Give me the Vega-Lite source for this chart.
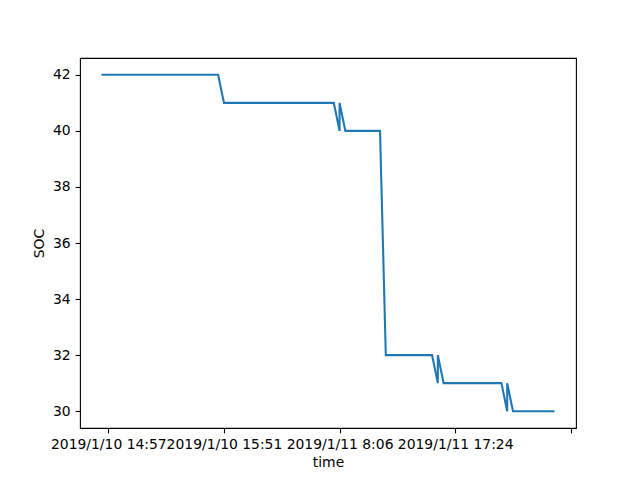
{
  "$schema": "https://vega.github.io/schema/vega-lite/v6.json",
  "width": 496,
  "height": 370,
  "autosize": {"type": "none"},
  "padding": {"left": 80, "top": 58, "right": 64, "bottom": 52},
  "background": "white",
  "config": {
    "font": "DejaVu Sans",
    "view": {"stroke": "black", "strokeWidth": 1.1},
    "axis": {
      "grid": false,
      "domain": false,
      "tickColor": "black",
      "tickWidth": 1.1,
      "tickSize": 4.9,
      "labelPadding": 4.9,
      "labelFontSize": 13.9,
      "labelColor": "black",
      "titleFontSize": 13.9,
      "titleFontWeight": "normal",
      "titleColor": "black",
      "labelFlush": false,
      "labelOverlap": false
    }
  },
  "data": {
    "values": [
      {"idx": 0, "time": "2019/1/10 14:54", "SOC": 42},
      {"idx": 1, "time": "2019/1/10 14:57", "SOC": 42},
      {"idx": 2, "time": "2019/1/10 14:59", "SOC": 42},
      {"idx": 3, "time": "2019/1/10 15:02", "SOC": 42},
      {"idx": 4, "time": "2019/1/10 15:05", "SOC": 42},
      {"idx": 5, "time": "2019/1/10 15:07", "SOC": 42},
      {"idx": 6, "time": "2019/1/10 15:10", "SOC": 42},
      {"idx": 7, "time": "2019/1/10 15:13", "SOC": 42},
      {"idx": 8, "time": "2019/1/10 15:15", "SOC": 42},
      {"idx": 9, "time": "2019/1/10 15:18", "SOC": 42},
      {"idx": 10, "time": "2019/1/10 15:21", "SOC": 42},
      {"idx": 11, "time": "2019/1/10 15:23", "SOC": 42},
      {"idx": 12, "time": "2019/1/10 15:26", "SOC": 42},
      {"idx": 13, "time": "2019/1/10 15:29", "SOC": 42},
      {"idx": 14, "time": "2019/1/10 15:32", "SOC": 42},
      {"idx": 15, "time": "2019/1/10 15:34", "SOC": 42},
      {"idx": 16, "time": "2019/1/10 15:37", "SOC": 42},
      {"idx": 17, "time": "2019/1/10 15:40", "SOC": 42},
      {"idx": 18, "time": "2019/1/10 15:43", "SOC": 42},
      {"idx": 19, "time": "2019/1/10 15:46", "SOC": 42},
      {"idx": 20, "time": "2019/1/10 15:48", "SOC": 42},
      {"idx": 21, "time": "2019/1/10 15:51", "SOC": 41},
      {"idx": 22, "time": "2019/1/10 15:54", "SOC": 41},
      {"idx": 23, "time": "2019/1/10 15:56", "SOC": 41},
      {"idx": 24, "time": "2019/1/10 15:59", "SOC": 41},
      {"idx": 25, "time": "2019/1/10 16:02", "SOC": 41},
      {"idx": 26, "time": "2019/1/10 16:05", "SOC": 41},
      {"idx": 27, "time": "2019/1/10 16:07", "SOC": 41},
      {"idx": 28, "time": "2019/1/10 16:10", "SOC": 41},
      {"idx": 29, "time": "2019/1/10 16:13", "SOC": 41},
      {"idx": 30, "time": "2019/1/10 16:15", "SOC": 41},
      {"idx": 31, "time": "2019/1/10 16:18", "SOC": 41},
      {"idx": 32, "time": "2019/1/10 16:21", "SOC": 41},
      {"idx": 33, "time": "2019/1/10 16:24", "SOC": 41},
      {"idx": 34, "time": "2019/1/10 16:26", "SOC": 41},
      {"idx": 35, "time": "2019/1/10 16:29", "SOC": 41},
      {"idx": 36, "time": "2019/1/10 16:32", "SOC": 41},
      {"idx": 37, "time": "2019/1/10 16:35", "SOC": 41},
      {"idx": 38, "time": "2019/1/10 16:37", "SOC": 41},
      {"idx": 39, "time": "2019/1/10 16:40", "SOC": 41},
      {"idx": 40, "time": "2019/1/10 16:43", "SOC": 41},
      {"idx": 41, "time": "2019/1/11 8:06", "SOC": 40},
      {"idx": 41, "time": "2019/1/11 8:06", "SOC": 41},
      {"idx": 42, "time": "2019/1/11 8:34", "SOC": 40},
      {"idx": 43, "time": "2019/1/11 9:02", "SOC": 40},
      {"idx": 44, "time": "2019/1/11 9:30", "SOC": 40},
      {"idx": 45, "time": "2019/1/11 9:58", "SOC": 40},
      {"idx": 46, "time": "2019/1/11 10:25", "SOC": 40},
      {"idx": 47, "time": "2019/1/11 10:53", "SOC": 40},
      {"idx": 48, "time": "2019/1/11 11:21", "SOC": 40},
      {"idx": 49, "time": "2019/1/11 11:49", "SOC": 32},
      {"idx": 50, "time": "2019/1/11 12:17", "SOC": 32},
      {"idx": 51, "time": "2019/1/11 12:45", "SOC": 32},
      {"idx": 52, "time": "2019/1/11 13:12", "SOC": 32},
      {"idx": 53, "time": "2019/1/11 13:40", "SOC": 32},
      {"idx": 54, "time": "2019/1/11 14:08", "SOC": 32},
      {"idx": 55, "time": "2019/1/11 14:36", "SOC": 32},
      {"idx": 56, "time": "2019/1/11 15:04", "SOC": 32},
      {"idx": 57, "time": "2019/1/11 15:32", "SOC": 32},
      {"idx": 58, "time": "2019/1/11 16:00", "SOC": 31},
      {"idx": 58, "time": "2019/1/11 16:00", "SOC": 32},
      {"idx": 59, "time": "2019/1/11 16:28", "SOC": 31},
      {"idx": 60, "time": "2019/1/11 16:56", "SOC": 31},
      {"idx": 61, "time": "2019/1/11 17:24", "SOC": 31},
      {"idx": 62, "time": "2019/1/11 17:52", "SOC": 31},
      {"idx": 63, "time": "2019/1/11 18:20", "SOC": 31},
      {"idx": 64, "time": "2019/1/11 18:48", "SOC": 31},
      {"idx": 65, "time": "2019/1/11 19:16", "SOC": 31},
      {"idx": 66, "time": "2019/1/11 19:43", "SOC": 31},
      {"idx": 67, "time": "2019/1/11 20:11", "SOC": 31},
      {"idx": 68, "time": "2019/1/11 20:39", "SOC": 31},
      {"idx": 69, "time": "2019/1/11 21:07", "SOC": 31},
      {"idx": 70, "time": "2019/1/11 21:35", "SOC": 30},
      {"idx": 70, "time": "2019/1/11 21:35", "SOC": 31},
      {"idx": 71, "time": "2019/1/11 22:03", "SOC": 30},
      {"idx": 72, "time": "2019/1/11 22:31", "SOC": 30},
      {"idx": 73, "time": "2019/1/11 22:59", "SOC": 30},
      {"idx": 74, "time": "2019/1/11 23:27", "SOC": 30},
      {"idx": 75, "time": "2019/1/11 23:55", "SOC": 30},
      {"idx": 76, "time": "2019/1/12 0:22", "SOC": 30},
      {"idx": 77, "time": "2019/1/12 0:50", "SOC": 30},
      {"idx": 78, "time": "2019/1/12 1:18", "SOC": 30}
    ]
  },
  "mark": {"type": "line", "color": "#1f77b4", "strokeWidth": 2.08, "strokeJoin": "miter", "strokeCap": "square"},
  "encoding": {
    "x": {
      "field": "idx",
      "type": "quantitative",
      "scale": {"domain": [-3.9, 81.9], "nice": false, "zero": false},
      "axis": {
        "title": "time",
        "values": [1, 21, 41, 61, 81],
        "labelExpr": "datum.value == 1 ? '2019/1/10 14:57' : datum.value == 21 ? '2019/1/10 15:51' : datum.value == 41 ? '2019/1/11 8:06' : datum.value == 61 ? '2019/1/11 17:24' : ''",
        "titlePadding": 4
      }
    },
    "y": {
      "field": "SOC",
      "type": "quantitative",
      "scale": {"domain": [29.4, 42.6], "nice": false, "zero": false},
      "axis": {"title": "SOC", "values": [30, 32, 34, 36, 38, 40, 42], "titlePadding": 6}
    },
    "order": {"value": null}
  }
}
